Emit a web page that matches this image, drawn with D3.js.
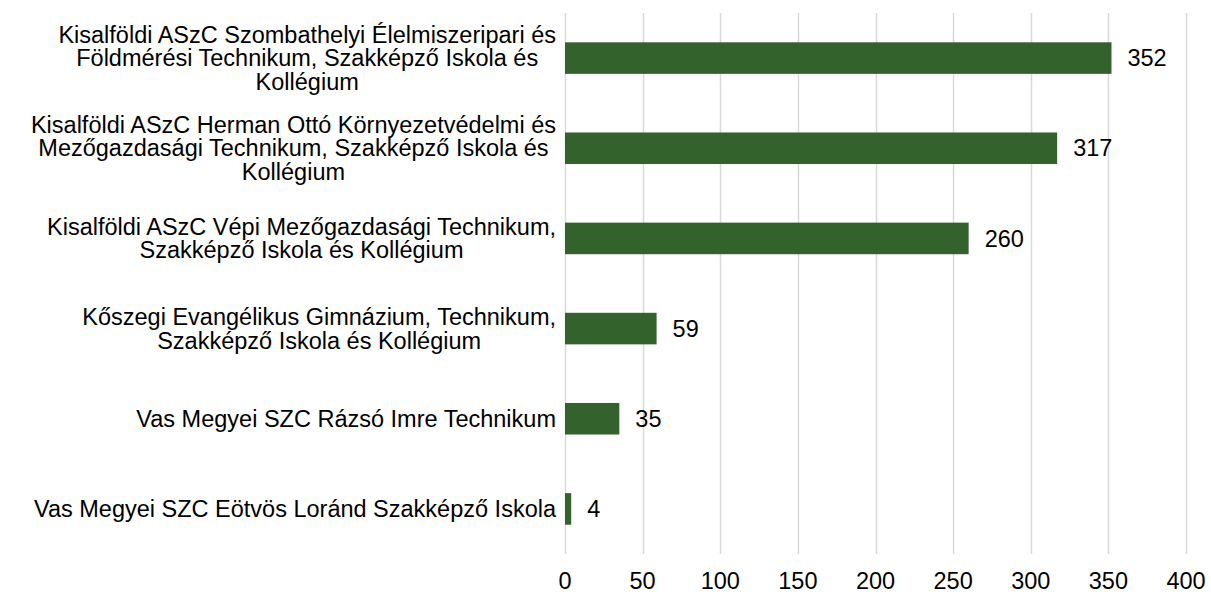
<!DOCTYPE html>
<html>
<head>
<meta charset="utf-8">
<script src="https://cdn.jsdelivr.net/npm/d3@7"></script>
<style>
  body { margin: 0; background: #fff; }
  text { font-family: "Liberation Sans", Arial, sans-serif; fill: #000; }
</style>
</head>
<body>
<svg id="chart" width="1211" height="595"></svg>
<script>
'use strict';

// schools, already broken into lines the way the reference wraps them
const schools = [
  ['Kisalföldi ASzC Szombathelyi Élelmiszeripari és', 'Földmérési Technikum, Szakképző Iskola és', 'Kollégium'],
  ['Kisalföldi ASzC Herman Ottó Környezetvédelmi és', 'Mezőgazdasági Technikum, Szakképző Iskola és', 'Kollégium'],
  ['Kisalföldi ASzC Vépi Mezőgazdasági Technikum,', 'Szakképző Iskola és Kollégium'],
  ['Kőszegi Evangélikus Gimnázium, Technikum,', 'Szakképző Iskola és Kollégium'],
  ['Vas Megyei SZC Rázsó Imre Technikum'],
  ['Vas Megyei SZC Eötvös Loránd Szakképző Iskola'],
];
const counts = [352, 317, 260, 59, 35, 4];
const ticks = [0, 50, 100, 150, 200, 250, 300, 350, 400];

const svg = d3.select('#chart');
const plot = { left: 565, right: 1186, top: 13, bottom: 554 };
const fontSize = 23.5;
const lineHeight = 23.5;

const x = d3.scaleLinear().domain([0, 400]).range([plot.left, plot.right]);
const y = d3.scaleBand()
  .domain(d3.range(schools.length))
  .range([plot.top, plot.bottom])
  .paddingInner(0.65)
  .paddingOuter(0.325);

// vertical grid lines
svg.append('g')
  .selectAll('line')
  .data(ticks)
  .join('line')
    .attr('x1', (d) => Math.round(x(d)) + 0.5)
    .attr('x2', (d) => Math.round(x(d)) + 0.5)
    .attr('y1', plot.top)
    .attr('y2', plot.bottom)
    .attr('stroke', '#d9d9d9')
    .attr('stroke-width', 1.5);

// tick labels under the plot (kept just inside the bottom edge)
svg.append('g')
  .selectAll('text')
  .data(ticks)
  .join('text')
    .attr('x', (d) => x(d))
    .attr('y', 589)
    .attr('text-anchor', 'middle')
    .attr('font-size', fontSize)
    .text((d) => d);

// bars
svg.append('g')
  .selectAll('rect')
  .data(counts)
  .join('rect')
    .attr('x', x(0))
    .attr('y', (d, i) => y(i))
    .attr('width', (d) => x(d) - x(0))
    .attr('height', y.bandwidth())
    .attr('fill', '#34622c');

// value labels
svg.append('g')
  .selectAll('text')
  .data(counts)
  .join('text')
    .attr('x', (d) => x(d) + 16)
    .attr('y', (d, i) => y(i) + y.bandwidth() / 2)
    .attr('dy', '0.35em')
    .attr('font-size', fontSize)
    .text((d) => d);

// category labels, centred lines, right edge near the axis
const labels = svg.append('g')
  .selectAll('text')
  .data(schools)
  .join('text')
    .attr('text-anchor', 'middle')
    .attr('font-size', fontSize);

labels.each(function(lines, i) {
  const el = d3.select(this);
  const mid = y(i) + y.bandwidth() / 2;
  const first = mid - (lines.length - 1) * lineHeight / 2;
  lines.forEach((line, k) => {
    el.append('tspan')
      .attr('y', first + k * lineHeight)
      .attr('dy', '0.35em')
      .text(line);
  });
  // centre each block on the widest line, which ends at the label edge
  const widths = [];
  el.selectAll('tspan').each(function() { widths.push(this.getComputedTextLength()); });
  const cx = 556 - d3.max(widths) / 2;
  el.selectAll('tspan').attr('x', cx);
});
</script>
</body>
</html>
